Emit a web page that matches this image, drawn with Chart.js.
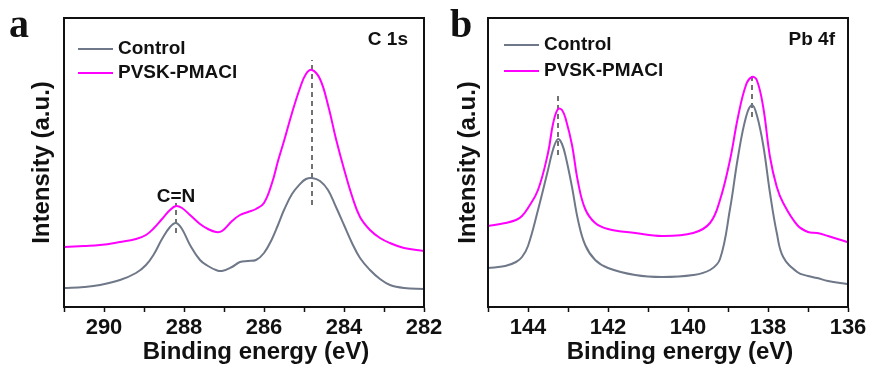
<!DOCTYPE html>
<html>
<head>
<meta charset="utf-8">
<script src="https://cdn.jsdelivr.net/npm/chart.js@4.4.1/dist/chart.umd.min.js"></script>
<style>
    html, body { margin: 0; padding: 0; background: #fff; }
    #contenedor { position: relative; width: 872px; height: 374px; overflow: hidden; }
    canvas { position: absolute; top: 0; }
    #chart-c1s { left: 0; }
    #chart-pb4f { left: 436px; }
</style>
</head>
<body>
<div id="contenedor">
    <canvas id="chart-c1s" width="460" height="374"></canvas>
    <canvas id="chart-pb4f" width="436" height="374"></canvas>
</div>
<script>
// Espectro C 1s (energía de enlace, eV)
const energiaC1s = [291.0, 290.5, 290.1, 289.6, 289.2, 288.95, 288.75, 288.55, 288.35, 288.2, 288.05, 287.85, 287.6, 287.4, 287.2, 287.05, 286.8, 286.6, 286.4, 286.2, 286.0, 285.8, 285.65, 285.5, 285.3, 285.1, 284.95, 284.8, 284.6, 284.4, 284.2, 284.0, 283.8, 283.6, 283.35, 283.1, 282.85, 282.5, 282.0];
const controlC1s = [19, 20, 22, 27, 34, 42, 53, 68, 80, 84, 78, 62, 47, 41, 37, 36, 40, 45, 46, 47, 54, 68, 82, 97, 113, 123, 128, 129, 126, 117, 100, 82, 64, 49, 37, 28, 22, 19, 18];
const pmaclC1s = [60, 61, 62, 65, 68, 72, 79, 88, 97, 101, 99, 92, 83, 78, 75, 76, 86, 92, 95, 98, 104, 124, 146, 166, 194, 219, 233, 237, 228, 202, 168, 138, 111, 90, 77, 69, 64, 59, 56];

// Espectro Pb 4f
const energiaPb4f = [145.0, 144.57, 144.3, 144.15, 144.0, 143.75, 143.5, 143.37, 143.25, 143.15, 143.05, 142.9, 142.75, 142.57, 142.32, 142.0, 141.32, 140.65, 139.87, 139.45, 139.2, 138.95, 138.75, 138.55, 138.4, 138.28, 138.12, 137.95, 137.78, 137.62, 137.27, 137.0, 136.77, 136.5, 136.02];
const controlPb4f = [39, 41, 45, 50, 61, 97, 137, 158, 168, 163, 149, 120, 87, 62, 47, 39, 32, 30, 32, 37, 48, 98, 150, 190, 202, 192, 162, 114, 74, 50, 35, 31, 29, 26, 23];
const pmaclPb4f = [81, 84, 87, 91, 99, 117, 154, 184, 198, 197, 187, 162, 125, 98, 84, 78, 74, 71, 74, 84, 107, 147, 190, 222, 230, 227, 200, 150, 120, 104, 82, 75, 74, 71, 65];

// Posiciones de las líneas de referencia [energía, desde, hasta]
const guiasC1s = [[284.8, 102, 247], [288.2, 74, 104]];
const guiasPb4f = [[143.25, 152, 215], [138.4, 190, 235]];

const COLOR_CONTROL = '#6f7889';
const COLOR_PMACL = '#ff00ff';
const COLOR_TEXTO = '#111';
const FUENTE = 'Arial, "Liberation Sans", sans-serif';

/**
 * Convertir dos listas en puntos {x, y}
 */
function aPuntos(xs, ys) {
    return xs.map((x, i) => ({ x: x, y: ys[i] }));
}

/**
 * Plugin: marco, letra, leyenda y rótulos de cada panel
 */
const pluginPanel = {
    id: 'panelXps',
    afterDraw(chart, args, opts) {
        const { ctx, chartArea: a, scales } = chart;
        ctx.save();

        // Marco del área de datos
        ctx.strokeStyle = COLOR_TEXTO;
        ctx.lineWidth = 2;
        ctx.strokeRect(a.left, a.top, a.right - a.left, a.bottom - a.top);

        ctx.fillStyle = COLOR_TEXTO;

        // Letra del panel
        ctx.font = 'bold 40px "Liberation Serif", "Times New Roman", serif';
        ctx.textAlign = 'left';
        ctx.textBaseline = 'alphabetic';
        ctx.fillText(opts.letra, opts.letraX, 37);

        // Leyenda
        ctx.font = 'bold 19px ' + FUENTE;
        ctx.textBaseline = 'middle';
        opts.leyenda.forEach(item => {
            ctx.strokeStyle = item.color;
            ctx.lineWidth = 2;
            ctx.beginPath();
            ctx.moveTo(a.left + opts.leyendaX, item.y);
            ctx.lineTo(a.left + opts.leyendaX + 35, item.y);
            ctx.stroke();
            ctx.fillText(item.texto, a.left + opts.leyendaX + 40, item.y);
        });

        // Nivel medido
        ctx.textAlign = 'right';
        ctx.fillText(opts.nivel, a.right - opts.nivelDx, 40);

        // Rótulos sobre picos
        ctx.textAlign = 'center';
        (opts.rotulos || []).forEach(r => {
            ctx.fillText(r.texto, scales.x.getPixelForValue(r.x), scales.y.getPixelForValue(r.y));
        });

        // Título del eje X
        ctx.font = 'bold 24px ' + FUENTE;
        ctx.fillText('Binding energy (eV)', opts.tituloX, 352);

        ctx.restore();
    }
};

/**
 * Crear un panel de espectro XPS
 */
function crearPanel(idCanvas, cfg) {
    const canvas = document.getElementById(idCanvas);
    const ctx = canvas.getContext('2d');

    const guias = cfg.guias.map(g => ({
        data: [{ x: g[0], y: g[1] }, { x: g[0], y: g[2] }],
        borderColor: '#444',
        borderWidth: 1.5,
        borderDash: [5, 4],
        pointRadius: 0
    }));

    return new Chart(ctx, {
        type: 'line',
        data: {
            datasets: [{
                label: 'Control',
                data: aPuntos(cfg.energia, cfg.control),
                borderColor: COLOR_CONTROL,
                borderWidth: 2,
                pointRadius: 0,
                tension: 0.4
            }, {
                label: 'PVSK-PMACl',
                data: aPuntos(cfg.energia, cfg.pmacl),
                borderColor: COLOR_PMACL,
                borderWidth: 2,
                pointRadius: 0,
                tension: 0.4
            }].concat(guias)
        },
        options: {
            responsive: false,
            animation: false,
            layout: {
                padding: { top: 18, right: cfg.padDerecha, left: 0, bottom: 0 }
            },
            plugins: {
                legend: { display: false },
                tooltip: { enabled: false },
                panelXps: cfg.panel
            },
            scales: {
                x: {
                    type: 'linear',
                    reverse: true,
                    min: cfg.min,
                    max: cfg.max,
                    afterFit: scale => { scale.height = 67; },
                    ticks: {
                        stepSize: 1,
                        autoSkip: false,
                        maxRotation: 0,
                        padding: 3,
                        color: COLOR_TEXTO,
                        font: { family: FUENTE, size: 22, weight: 'bold' },
                        callback: v => (v % 2 === 0 ? v : '')
                    },
                    grid: {
                        drawOnChartArea: false,
                        tickLength: 5,
                        tickWidth: 1.5,
                        tickColor: COLOR_TEXTO
                    },
                    border: { color: COLOR_TEXTO, width: 2 }
                },
                y: {
                    min: 0,
                    max: 289,
                    afterFit: scale => { scale.width = cfg.anchoY; },
                    ticks: { display: false },
                    grid: { display: false },
                    border: { display: false },
                    title: {
                        display: true,
                        text: 'Intensity (a.u.)',
                        color: COLOR_TEXTO,
                        font: { family: FUENTE, size: 24, weight: 'bold' },
                        padding: { top: cfg.padTituloY, bottom: 0 }
                    }
                }
            }
        },
        plugins: [pluginPanel]
    });
}

crearPanel('chart-c1s', {
    energia: energiaC1s,
    control: controlC1s,
    pmacl: pmaclC1s,
    guias: guiasC1s,
    min: 282,
    max: 291,
    anchoY: 64,
    padDerecha: 36,
    padTituloY: 28,
    panel: {
        letra: 'a',
        letraX: 9,
        leyendaX: 14,
        leyenda: [
            { texto: 'Control', color: COLOR_CONTROL, y: 49 },
            { texto: 'PVSK-PMACl', color: COLOR_PMACL, y: 73 }
        ],
        nivel: 'C 1s',
        nivelDx: 16,
        rotulos: [{ texto: 'C=N', x: 288.2, y: 110 }],
        tituloX: 256
    }
});

crearPanel('chart-pb4f', {
    energia: energiaPb4f,
    control: controlPb4f,
    pmacl: pmaclPb4f,
    guias: guiasPb4f,
    min: 136,
    max: 145,
    anchoY: 52,
    padDerecha: 24,
    padTituloY: 18,
    panel: {
        letra: 'b',
        letraX: 14,
        leyendaX: 16,
        leyenda: [
            { texto: 'Control', color: COLOR_CONTROL, y: 45 },
            { texto: 'PVSK-PMACl', color: COLOR_PMACL, y: 71 }
        ],
        nivel: 'Pb 4f',
        nivelDx: 13,
        rotulos: [],
        tituloX: 244
    }
});
</script>
</body>
</html>
